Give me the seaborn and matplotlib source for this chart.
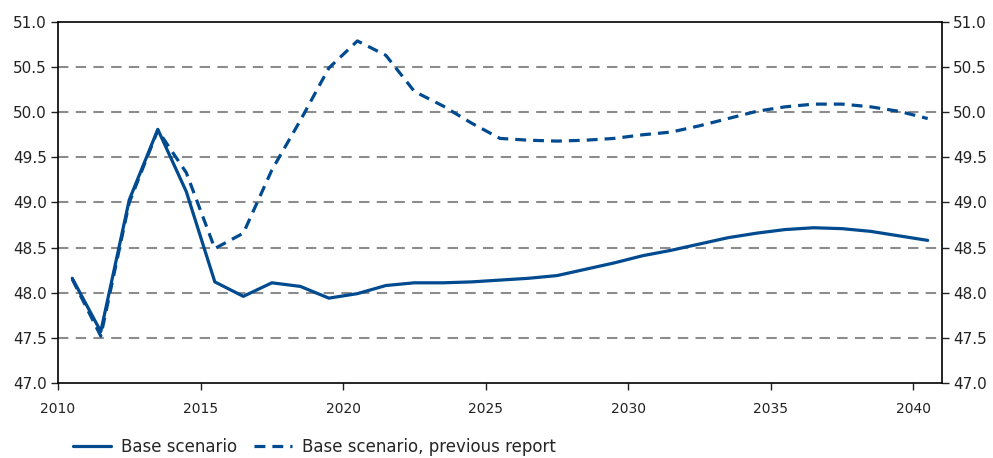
import numpy as np
import pandas as pd
import matplotlib
matplotlib.use("Agg")
import matplotlib.pyplot as plt
import seaborn as sns

years = list(range(2010, 2041))

base = [48.16, 47.57, 49.03, 49.81, 49.12, 48.12, 47.96, 48.11, 48.07, 47.94,
        47.99, 48.08, 48.11, 48.11, 48.12, 48.14, 48.16, 48.19, 48.26, 48.33,
        48.41, 48.47, 48.54, 48.61, 48.66, 48.70, 48.72, 48.71, 48.68, 48.63,
        48.58]

prev = [48.15, 47.52, 49.00, 49.80, 49.33, 48.49, 48.66, 49.36, 49.91, 50.49,
        50.79, 50.63, 50.23, 50.07, 49.88, 49.71, 49.69, 49.68, 49.69, 49.71,
        49.75, 49.78, 49.85, 49.93, 50.01, 50.06, 50.09, 50.09, 50.06, 50.01,
        49.93]

labels = ["Base scenario", "Base scenario, previous report"]
y_ticks = [47.0, 47.5, 48.0, 48.5, 49.0, 49.5, 50.0, 50.5, 51.0]
x_tick_labels = [2010, 2015, 2020, 2025, 2030, 2035, 2040]

BLUE = "#004a8f"

sns.set_style("white")
plt.rcParams["font.family"] = ["DejaVu Sans"]

df = pd.DataFrame({"year": years, "base": base, "prev": prev})

fig = plt.figure(figsize=(9.93, 4.58), dpi=100)
ax = fig.add_axes([0.0584, 0.1638, 0.8902, 0.7882])

sns.lineplot(data=df, x="year", y="base", ax=ax, color=BLUE, lw=2.3,
             label=labels[0])
sns.lineplot(data=df, x="year", y="prev", ax=ax, color=BLUE, lw=2.3,
             dashes=False, label=labels[1])
ax.lines[1].set_dashes((3.4, 2.2))

# horizontal dashed grid lines
for yv in y_ticks[1:-1]:
    ax.axhline(yv, color="#8c8c8c", lw=1.5, dashes=(5, 3.5), zorder=0)

ax.set_ylim(47.0, 51.0)
ax.set_xlim(2009.5, 2040.5)
ax.set_yticks(y_ticks)
ax.set_yticklabels([f"{v:.1f}" for v in y_ticks])
ax.set_xticks([y - 0.5 for y in x_tick_labels])
ax.set_xticklabels([str(y) for y in x_tick_labels])
ax.set_xlabel("")
ax.set_ylabel("")

ax.tick_params(axis="y", direction="out", length=5, width=1, left=True,
               right=True, labelleft=True, labelright=True, labelsize=11,
               colors="#222222", pad=3)
ax.tick_params(axis="x", direction="out", length=5, width=1, bottom=True,
               labelsize=10, colors="#222222", pad=9)
for sp in ax.spines.values():
    sp.set_color("black")
    sp.set_linewidth(1.2)

ax.get_legend().remove()
handles, _ = ax.get_legend_handles_labels()
fig.legend(handles, labels, loc="lower left", bbox_to_anchor=(0.058, -0.028),
           ncol=2, frameon=False, fontsize=12, handlelength=2.3,
           columnspacing=1.0, handletextpad=0.6)

fig.savefig("out.png", dpi=100)
